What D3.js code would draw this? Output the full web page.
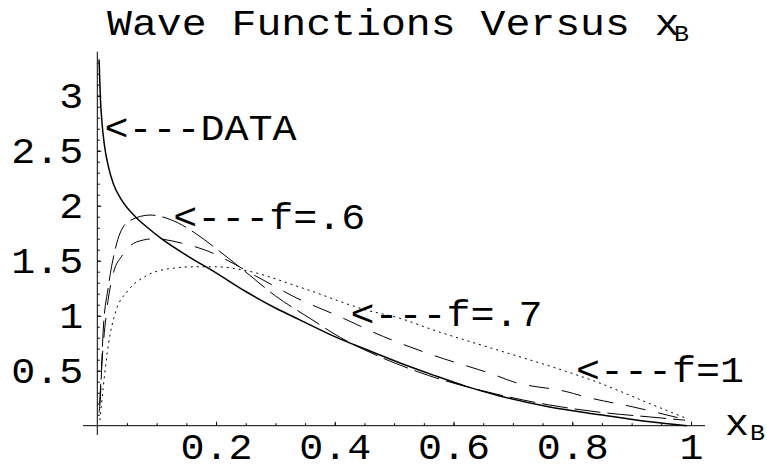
<!DOCTYPE html>
<html>
<head>
<meta charset="utf-8">
<script src="https://cdn.jsdelivr.net/npm/d3@7"></script>
<style>
  body { margin: 0; background: #fff; }
  text { font-family: "Courier New", "Liberation Mono", monospace; fill: #000; }
</style>
</head>
<body>
<svg id="svg1" width="767" height="470"></svg>
<script>
// values
const xTicks = [0.2, 0.4, 0.6, 0.8, 1];
const yTicks = [0.5, 1, 1.5, 2, 2.5, 3];

const dataX = [0.003, 0.005, 0.008, 0.012, 0.0185, 0.027, 0.040, 0.064, 0.085, 0.108, 0.153, 0.20, 0.25, 0.30, 0.342, 0.40, 0.454, 0.51, 0.566, 0.62, 0.678, 0.762, 0.847, 0.931, 0.993];
const dataY = [3.33, 3.00, 2.75, 2.55, 2.36, 2.20, 2.06, 1.90, 1.80, 1.70, 1.54, 1.39, 1.22, 1.07, 0.96, 0.81, 0.69, 0.57, 0.46, 0.36, 0.27, 0.17, 0.10, 0.035, 0.0];

const f6X = [0.003, 0.0045, 0.010, 0.0185, 0.030, 0.052, 0.089, 0.125, 0.165, 0.20, 0.246, 0.30, 0.36, 0.41, 0.45, 0.54, 0.67, 0.76, 0.85, 0.93, 0.99];
const f6Y = [0.12, 0.20, 0.87, 1.26, 1.60, 1.855, 1.915, 1.87, 1.75, 1.61, 1.415, 1.18, 0.97, 0.80, 0.69, 0.49, 0.29, 0.19, 0.12, 0.08, 0.05];

const f7X = [0.004, 0.0074, 0.016, 0.027, 0.041, 0.066, 0.097, 0.142, 0.18, 0.274, 0.336, 0.409, 0.482, 0.51, 0.566, 0.67, 0.70, 0.79, 0.824, 0.903, 0.98];
const f7Y = [0.20, 0.54, 1.05, 1.385, 1.54, 1.67, 1.70, 1.66, 1.60, 1.34, 1.16, 0.99, 0.81, 0.75, 0.64, 0.46, 0.40, 0.31, 0.26, 0.17, 0.07];

const f1X = [0.0045, 0.010, 0.019, 0.030, 0.052, 0.080, 0.125, 0.165, 0.198, 0.246, 0.341, 0.454, 0.51, 0.566, 0.673, 0.763, 0.84, 0.931, 0.995];
const f1Y = [0.05, 0.35, 0.75, 1.02, 1.23, 1.355, 1.43, 1.445, 1.445, 1.415, 1.26, 1.05, 0.976, 0.87, 0.69, 0.54, 0.40, 0.20, 0.06];

const noteText = ["<---DATA", "<---f=.6", "<---f=.7", "<---f=1"];
const noteX = [0.174, 0.2895, 0.588, 0.948];
const noteY = [2.706, 1.90, 1.02, 0.513];

const svg = d3.select("#svg1"),
      x   = d3.scaleLinear().domain([0, 1]).range([97.3, 691]),
      y   = d3.scaleLinear().domain([0, 3.4]).range([425.7, 51.7]);

// courier in the reference is wider than it is tall, so stretch each string
const CH = 24;   // advance per character
function stretch(sel, ch) {
  sel.attr("textLength", function() { return this.textContent.length * (ch || CH); })
     .attr("lengthAdjust", "spacingAndGlyphs");
}

// axis lines cross a little past the origin
svg.append("line")
    .attr("x1", 83).attr("x2", 705)
    .attr("y1", y(0)).attr("y2", y(0))
    .attr("stroke", "#000").attr("stroke-width", 1);
svg.append("line")
    .attr("x1", x(0)).attr("x2", x(0))
    .attr("y1", y(3.4)).attr("y2", 435)
    .attr("stroke", "#000").attr("stroke-width", 1);

// minor ticks
svg.append("g")
    .attr("transform", `translate(0,${y(0)})`)
    .call(d3.axisBottom(x).tickValues(d3.range(1, 21).map(i => i * 0.05)).tickSize(-2.5).tickFormat(""))
    .call(g => g.select(".domain").remove());
svg.append("g")
    .attr("transform", `translate(${x(0)},0)`)
    .call(d3.axisLeft(y).tickValues(d3.range(1, 34).map(i => i * 0.1)).tickSize(-2.5).tickFormat(""))
    .call(g => g.select(".domain").remove());

// major ticks with labels
svg.append("g")
    .attr("class", "axis axis-x")
    .attr("transform", `translate(0,${y(0)})`)
    .call(d3.axisBottom(x).tickValues(xTicks).tickSize(-4).tickFormat(d => String(d)))
    .call(g => g.select(".domain").remove());
svg.append("g")
    .attr("class", "axis axis-y")
    .attr("transform", `translate(${x(0)},0)`)
    .call(d3.axisLeft(y).tickValues(yTicks).tickSize(-4).tickPadding(14).tickFormat(d => String(d)))
    .call(g => g.select(".domain").remove());

svg.selectAll(".tick line").attr("stroke", "#000");
svg.selectAll(".axis text")
    .style("font-family", "\"Courier New\", \"Liberation Mono\", monospace")
    .style("font-size", "36px")
    .attr("fill", "#000")
    .call(stretch);
svg.selectAll(".axis-x text").attr("y", 33.5).attr("dy", "0");
svg.selectAll(".axis-y text").attr("dy", "0.34em");

// curves
const line = d3.line()
    .x(d => x(d[0]))
    .y(d => y(d[1]))
    .curve(d3.curveMonotoneX);

const series = [
  {xs: dataX, ys: dataY, dash: null,   w: 1.5},
  {xs: f6X,   ys: f6Y,   dash: "26,7", w: 1},
  {xs: f7X,   ys: f7Y,   dash: "20,13", w: 1},
  {xs: f1X,   ys: f1Y,   dash: "2,4",  w: 1}
];

series.forEach(s => {
  svg.append("path")
      .datum(d3.zip(s.xs, s.ys))
      .attr("fill", "none")
      .attr("stroke", "#000")
      .attr("stroke-width", s.w)
      .attr("stroke-dasharray", s.dash)
      .attr("d", line);
});

// arrow notes
svg.selectAll(".note")
  .data(noteText)
  .enter().append("text")
    .attr("class", "note")
    .attr("x", (d, i) => x(noteX[i]))
    .attr("y", (d, i) => y(noteY[i]))
    .attr("dy", "0.34em")
    .attr("text-anchor", "middle")
    .style("font-size", "36px")
    .text(d => d)
    .call(stretch);

// title
svg.append("text")
    .attr("x", 107)
    .attr("y", 35)
    .style("font-size", "37px")
    .text("Wave Functions Versus x")
    .call(stretch, 24.9);
svg.append("text")
    .attr("x", 674)
    .attr("y", 41)
    .style("font-size", "22px")
    .text("B")
    .call(stretch, 15);

// axis label
svg.append("text")
    .attr("x", 725)
    .attr("y", 435)
    .style("font-size", "36px")
    .text("x")
    .call(stretch);
svg.append("text")
    .attr("x", 750)
    .attr("y", 440)
    .style("font-size", "22px")
    .text("B")
    .call(stretch, 15);
</script>
</body>
</html>
